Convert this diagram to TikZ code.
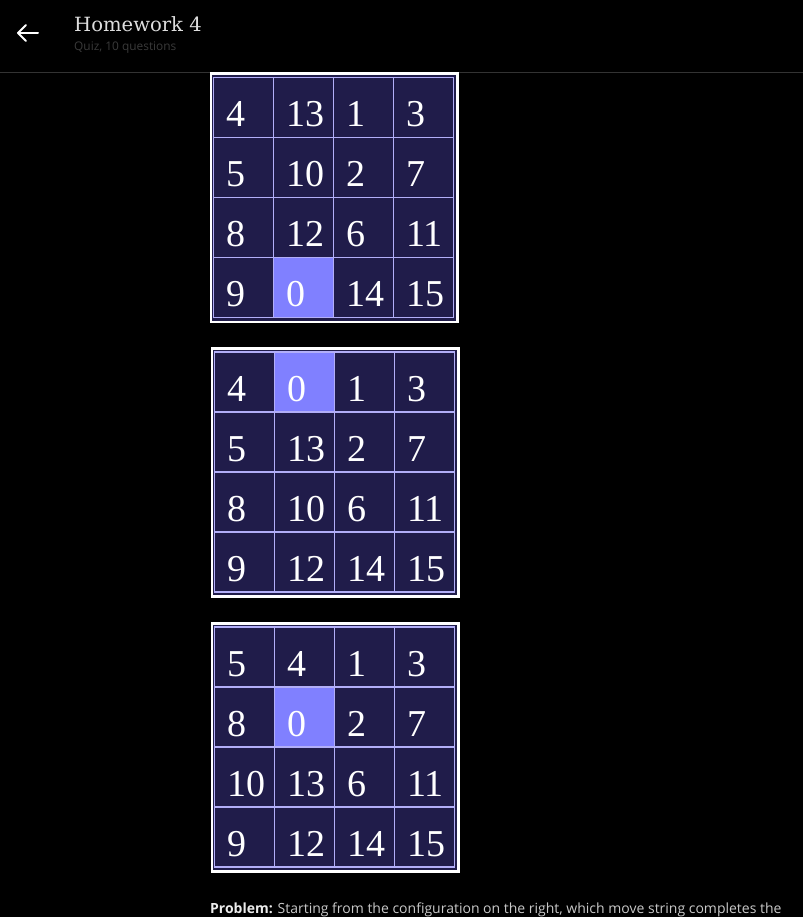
\documentclass[tikz,border=0pt]{standalone}
\usepackage{fontspec}
\setmainfont{Liberation Serif}
\newfontfamily\headfont{DejaVu Serif}
\newfontfamily\uifont{Open Sans}

\definecolor{boardbg}{HTML}{201C4A}
\definecolor{gridline}{HTML}{B2AEF8}
\definecolor{blankcell}{HTML}{8080FF}
\definecolor{titlegray}{HTML}{DDDDDD}
\definecolor{subgray}{HTML}{3A3A3A}
\definecolor{rulegray}{HTML}{333333}
\definecolor{bodygray}{HTML}{C8C8C8}

\tikzset{
    cell/.style={draw=gridline, line width=1.8pt, minimum width=60pt, minimum height=60pt,
        inner xsep=12.5pt, inner ysep=0pt, text width=35pt, align=left,
        text height=49pt, text depth=11pt, text=white, font=\fontsize{38}{38}\selectfont},
    uitext/.style={anchor=base west, inner sep=0pt}
}

\begin{document}
\begin{tikzpicture}[x=1pt, y=-1pt]

    \useasboundingbox (0,0) rectangle (803,917);
    \fill[black] (0,0) rectangle (803,917);

    % Header
    \draw[white, line width=2pt, line cap=round, line join=round] (26,25) -- (18,33) -- (26,41);
    \draw[white, line width=2pt, line cap=round] (18,33) -- (38,33);
    \node[uitext, text=titlegray, font=\headfont\fontsize{19.6}{19.6}\selectfont] (title) at (74,31.7) {Homework 4};
    \node[uitext, text=subgray, font=\uifont\fontsize{11.9}{11.9}\selectfont] (subtitle) at (74,50.5) {Quiz, 10 questions};
    \draw[rulegray, line width=1pt] (0,72.5) -- (803,72.5);

    % Boards
    \foreach \bx/\by/\vals [count=\b] in {
            213.5/77.5/{4,13,1,3,5,10,2,7,8,12,6,11,9,0,14,15},
            214.5/352/{4,0,1,3,5,13,2,7,8,10,6,11,9,12,14,15},
            214.5/627/{5,4,1,3,8,0,2,7,10,13,6,11,9,12,14,15}}
        {
            \fill[white] (\bx-4,\by-5) rectangle (\bx+245,\by+245.5);
            \fill[boardbg] (\bx-1.5,\by-2.5) rectangle (\bx+242.5,\by+243);
            \foreach \v [count=\i from 0] in \vals
                {
                    \pgfmathtruncatemacro{\col}{mod(\i,4)}
                    \pgfmathtruncatemacro{\row}{\i/4}
                    \ifnum\v=0 \def\cfill{blankcell}\else\def\cfill{boardbg}\fi
                    \node[cell, fill=\cfill] (c\b-\i) at (\bx+30+60*\col, \by+30+60*\row) {\v};
                }
        }

    % Problem text
    \node[uitext, text=bodygray, font=\uifont\fontsize{14}{14}\selectfont] (problem) at (210,913)
        {\textcolor{white!92!black}{\textbf{Problem:}} Starting from the configuration on the right, which move string completes the};

\end{tikzpicture}
\end{document}
